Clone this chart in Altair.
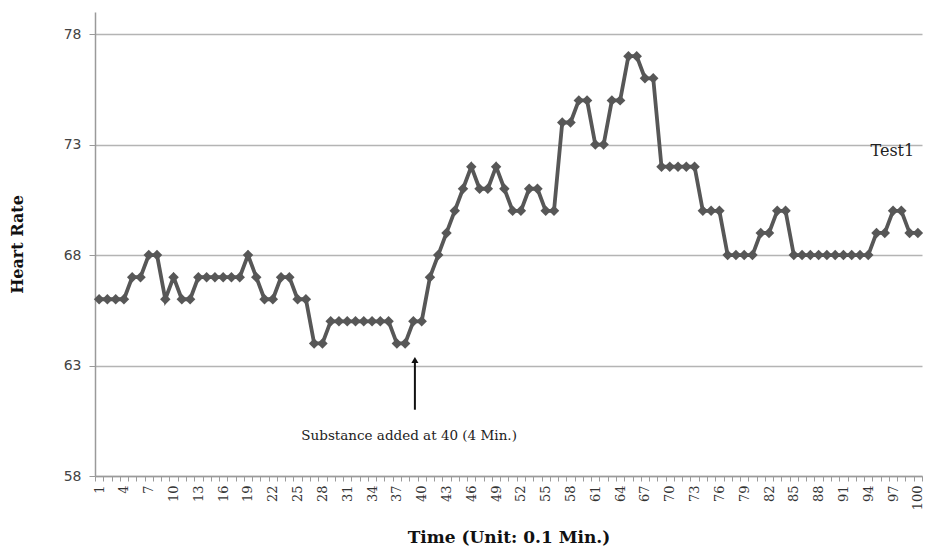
import altair as alt
import pandas as pd

time = list(range(1, 101))
heart_rate = [66, 66, 66, 66, 67, 67, 68, 68, 66, 67,
              66, 66, 67, 67, 67, 67, 67, 67, 68, 67,
              66, 66, 67, 67, 66, 66, 64, 64, 65, 65,
              65, 65, 65, 65, 65, 65, 64, 64, 65, 65,
              67, 68, 69, 70, 71, 72, 71, 71, 72, 71,
              70, 70, 71, 71, 70, 70, 74, 74, 75, 75,
              73, 73, 75, 75, 77, 77, 76, 76, 72, 72,
              72, 72, 72, 70, 70, 70, 68, 68, 68, 68,
              69, 69, 70, 70, 68, 68, 68, 68, 68, 68,
              68, 68, 68, 68, 69, 69, 70, 70, 69, 69]
y_ticks = [58, 63, 68, 73, 78]

series_label = ["Test1"]
series_label_x = [95]
series_label_y = [72.7]

note_text = ["Substance added at 40 (4 Min.)"]
note_x = [38]
note_y = [59.8]
arrow_x = [39]
arrow_y_start = [61.0]
arrow_y_end = [63.25]

df = pd.DataFrame({"t": time, "hr": heart_rate})
df_label = pd.DataFrame({"x": series_label_x, "y": series_label_y, "txt": series_label})
df_note = pd.DataFrame({"x": note_x, "y": note_y, "txt": note_text})
df_arrow = pd.DataFrame({"x": arrow_x, "y": arrow_y_start, "y2": arrow_y_end})

SERIF = "DejaVu Serif"
SANS = "DejaVu Sans"
GRAY = "#575757"
AXIS_GRAY = "#9a9a9a"

x_scale = alt.Scale(type="band", domain=time, paddingInner=0, paddingOuter=0)
y_scale = alt.Scale(domain=[58, 79], nice=False, zero=False)

x_axis = alt.Axis(
    labelExpr="(datum.value - 1) % 3 == 0 ? datum.label : ''",
    labelOverlap=False,
    labelAngle=-90,
    labelAlign="right",
    labelBaseline="middle",
    labelPadding=4,
    labelFont=SERIF,
    labelFontSize=13,
    labelColor="#333333",
    ticks=True,
    tickBand="extent",
    tickSize=5,
    tickColor=AXIS_GRAY,
    domainColor=AXIS_GRAY,
    domainWidth=1.5,
    grid=False,
    title="Time (Unit: 0.1 Min.)",
    titleFont=SERIF,
    titleFontSize=17,
    titleFontWeight="bold",
    titleColor="#111111",
    titlePadding=20,
)
y_axis = alt.Axis(
    values=y_ticks,
    grid=True,
    gridColor="#b4b4b4",
    gridWidth=1.5,
    labelFont=SANS,
    labelFontSize=14,
    labelColor="#444444",
    labelPadding=8,
    tickSize=6,
    tickColor=AXIS_GRAY,
    domainColor=AXIS_GRAY,
    domainWidth=1.5,
    title="Heart Rate",
    titleFont=SERIF,
    titleFontSize=16,
    titleFontWeight="bold",
    titleColor="#111111",
    titlePadding=38,
)

X = alt.X("t:N", scale=x_scale, axis=x_axis)
base = alt.Chart(df)
line = base.mark_line(color=GRAY, strokeWidth=3.8).encode(
    x=X,
    y=alt.Y("hr:Q", scale=y_scale, axis=y_axis),
)
pts = base.mark_point(shape="diamond", filled=True, color=GRAY, size=110, opacity=1).encode(
    x=X, y="hr:Q"
)

label = alt.Chart(df_label).mark_text(
    font=SERIF, fontSize=16, align="left", baseline="middle", color="#222222", xOffset=-6
).encode(x=alt.X("x:N", scale=x_scale, axis=x_axis), y="y:Q", text="txt:N")
note = alt.Chart(df_note).mark_text(
    font=SERIF, fontSize=13.5, align="center", baseline="middle", color="#222222", xOffset=4
).encode(x=alt.X("x:N", scale=x_scale, axis=x_axis), y="y:Q", text="txt:N")
arrow_line = alt.Chart(df_arrow).mark_rule(color="#111111", strokeWidth=2, xOffset=1.5).encode(
    x=alt.X("x:N", scale=x_scale, axis=x_axis), y="y:Q", y2="y2:Q"
)
arrow_head = alt.Chart(df_arrow).mark_point(
    shape="triangle-up", filled=True, color="#111111", size=50, opacity=1, xOffset=1.5
).encode(x=alt.X("x:N", scale=x_scale, axis=x_axis), y="y2:Q")

chart = alt.layer(line, pts, arrow_line, arrow_head, note, label).properties(
    width=827,
    height=464,
    autosize=alt.AutoSizeParams(type="none"),
    padding={"left": 87, "top": 4, "right": 2, "bottom": 78},
    background="white",
).configure_view(stroke=None)

chart.save("out.html", embed_options={"renderer": "svg", "actions": False})
